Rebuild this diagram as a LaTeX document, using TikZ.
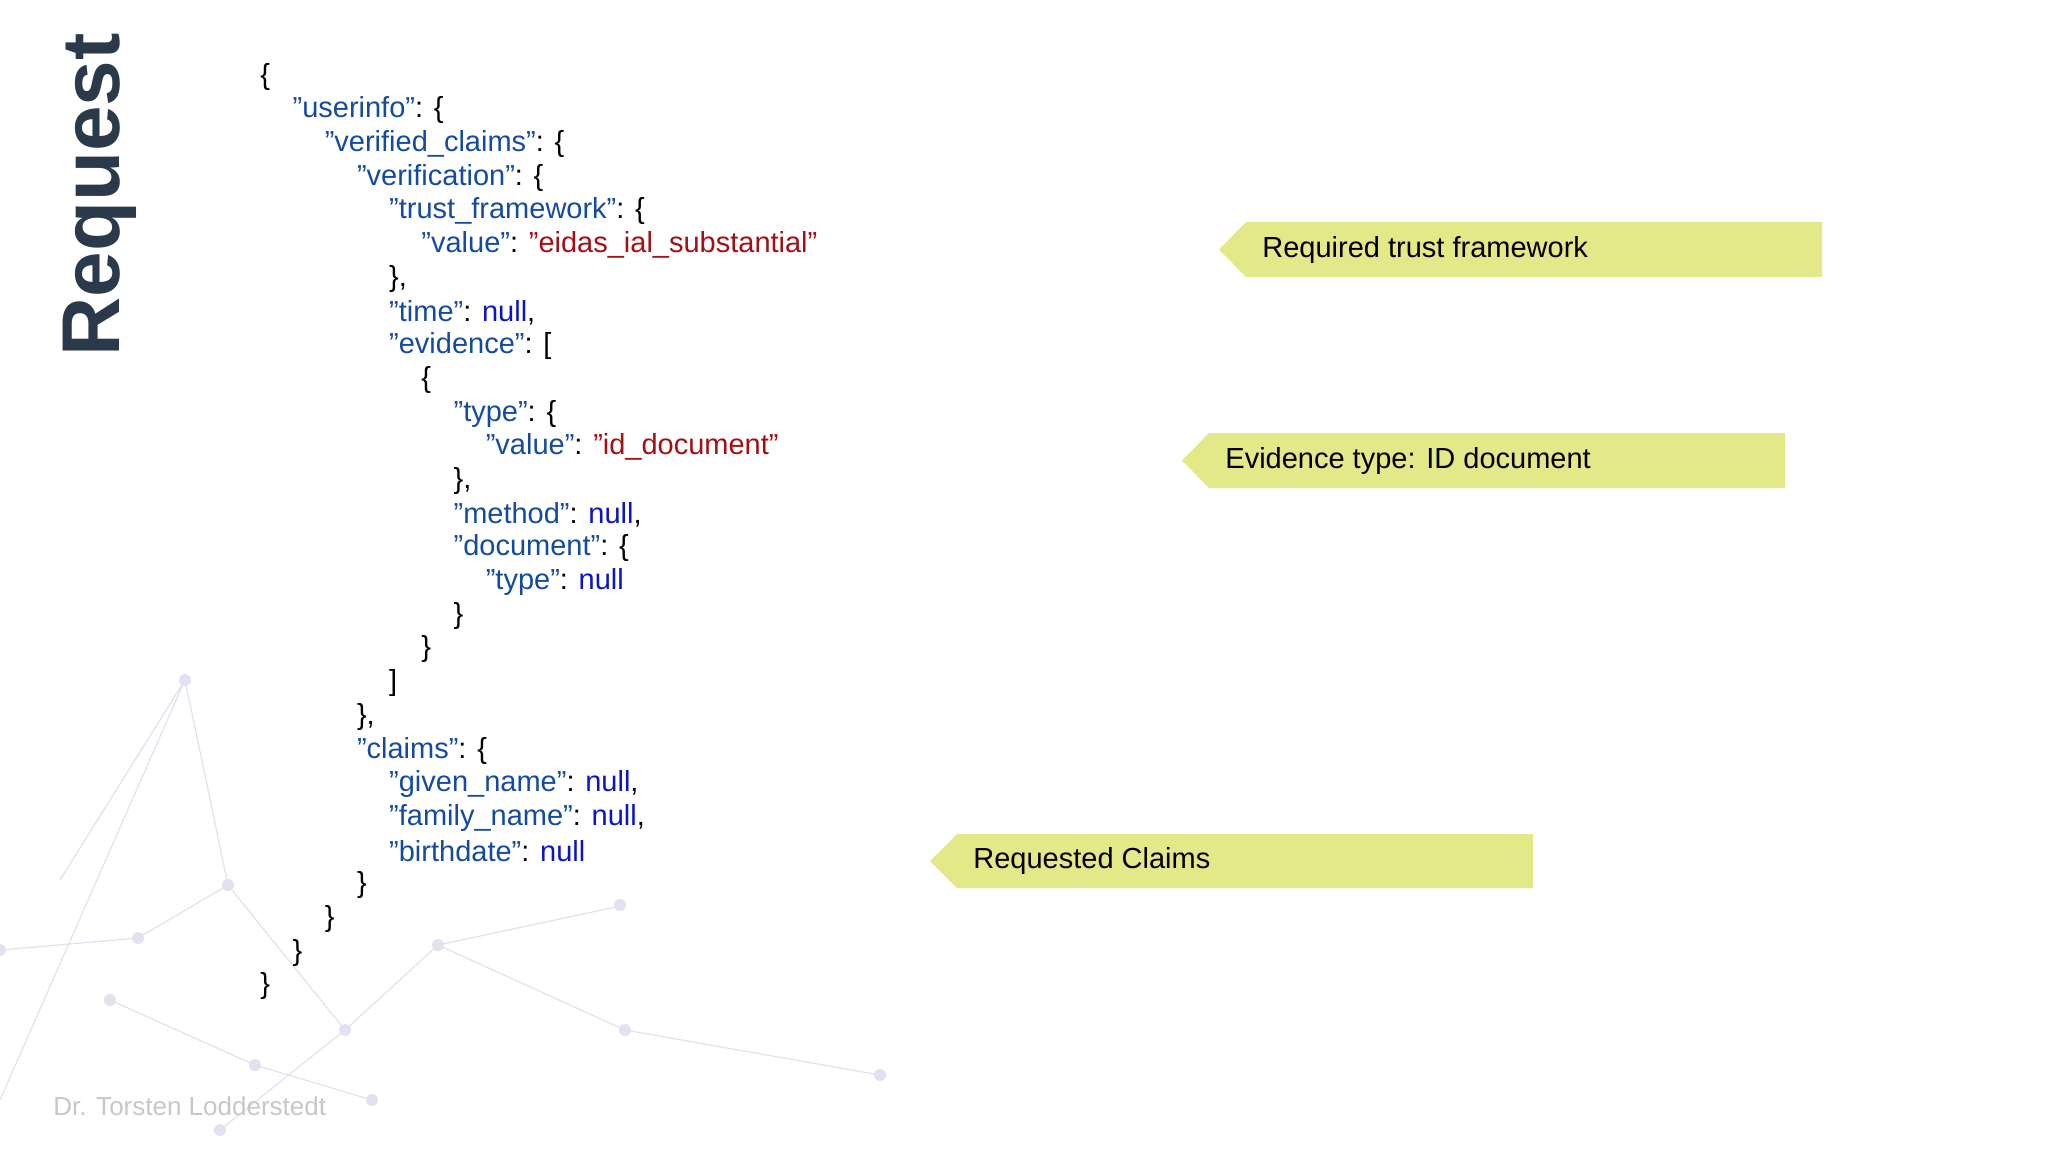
\documentclass[tikz,border=0pt]{standalone}
\usepackage{fontspec}
\setmainfont{Liberation Sans}
\definecolor{keyc}{RGB}{20,75,160}
\definecolor{nullc}{RGB}{10,20,200}
\definecolor{strc}{RGB}{165,15,20}
\definecolor{callc}{RGB}{227,232,136}
\definecolor{titc}{RGB}{43,58,74}
\definecolor{netc}{RGB}{225,225,240}
\begin{document}
\begin{tikzpicture}[x=0.5pt,y=-0.5pt,
  code/.style={anchor=west,inner sep=0pt,font=\fontsize{14.5}{16}\selectfont},
  callout/.style={fill=callc},
  calltext/.style={anchor=west,inner sep=0pt,font=\fontsize{14.5}{16}\selectfont}]
\useasboundingbox (0,0) rectangle (2048,1152);
% faint background network
\foreach \a/\b in {185/680,228/885,138/938,0/950,110/1000,255/1065,345/1030,438/945,372/1100,625/1030,220/1130,880/1075,620/905}{\fill[netc] (\a,\b) circle (6);}
\draw[netc,line width=0.6pt] (185,680)--(228,885)--(138,938)--(0,950) (228,885)--(345,1030)--(438,945)--(625,1030)--(880,1075) (110,1000)--(255,1065)--(372,1100) (0,1100)--(185,680)--(60,880) (345,1030)--(220,1130) (625,905)--(438,945);
\node[font=\fontsize{41}{44}\bfseries\selectfont,text=titc,rotate=90,inner sep=0pt] (title) at (100,195) {Request};
\node[anchor=west,inner sep=0pt,text=black!22,font=\fontsize{13}{15}\selectfont] (foot) at (53,1106) {Dr. Torsten Lodderstedt};
\def\K#1{\textcolor{keyc}{"#1"}}
\def\N{\textcolor{nullc}{null}}
\def\S#1{\textcolor{strc}{"#1"}}
\foreach \l/\t [count=\i from 0] in {
0/{\{},
1/{\K{userinfo}: \{},
2/{\K{verified\_claims}: \{},
3/{\K{verification}: \{},
4/{\K{trust\_framework}: \{},
5/{\K{value}: \S{eidas\_ial\_substantial}},
4/{\},},
4/{\K{time}: \N,},
4/{\K{evidence}: [},
5/{\{},
6/{\K{type}: \{},
7/{\K{value}: \S{id\_document}},
6/{\},},
6/{\K{method}: \N,},
6/{\K{document}: \{},
7/{\K{type}: \N},
6/{\}},
5/{\}},
4/{]},
3/{\},},
3/{\K{claims}: \{},
4/{\K{given\_name}: \N,},
4/{\K{family\_name}: \N,},
4/{\K{birthdate}: \N},
3/{\}},
2/{\}},
1/{\}},
0/{\}}}
{\node[code] (line\i) at (260+32.2*\l,76.5+33.7*\i) {\t};}
% callouts
\fill[callout] (1219,249.5)--(1246,222)--(1822,222)--(1822,277)--(1246,277)--cycle;
\node[calltext] (c1) at (1262,249.5) {Required trust framework};
\fill[callout] (1182,460.5)--(1209,433)--(1785,433)--(1785,488)--(1209,488)--cycle;
\node[calltext] (c2) at (1225,460.5) {Evidence type: ID document};
\fill[callout] (930,861)--(957,834)--(1533,834)--(1533,888)--(957,888)--cycle;
\node[calltext] (c3) at (973,861) {Requested Claims};
\end{tikzpicture}
\end{document}
